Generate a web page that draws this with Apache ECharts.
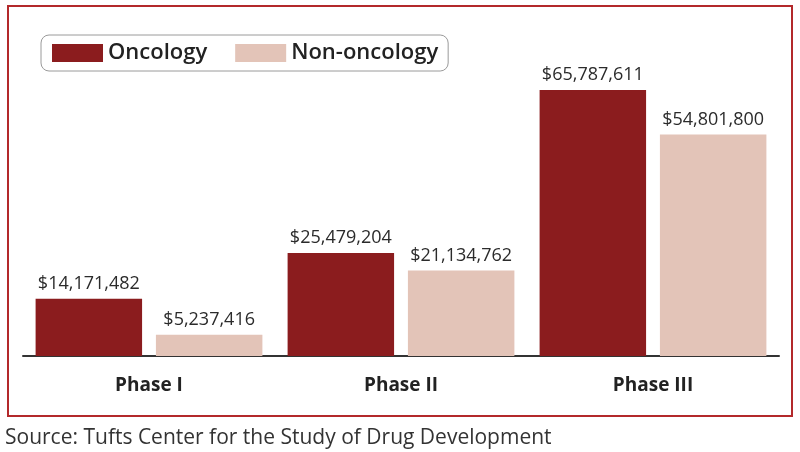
<!DOCTYPE html>
<html><head><meta charset="utf-8">
<script src="https://cdn.jsdelivr.net/npm/echarts@6/dist/echarts.min.js"></script>
<style>html,body{margin:0;padding:0;background:#fff}#c{width:800px;height:452px}</style>
</head><body><div id="c"></div>
<script>
var categories = ['Phase I', 'Phase II', 'Phase III'];
var oncology = [14171482, 25479204, 65787611];
var nonOncology = [5237416, 21134762, 54801800];
var seriesNames = ['Oncology', 'Non-oncology'];
var sourceText = 'Source: Tufts Center for the Study of Drug Development';

function fmt(v){ return '$' + v.toLocaleString('en-US'); }

var chart = echarts.init(document.getElementById('c'));
var labelStyle = {show:true, position:'top', distance:6, color:'#2b2b2b', fontSize:18,
  fontFamily:'"Open Sans", "Noto Sans", sans-serif', formatter:function(p){return fmt(p.value);}};
chart.setOption({
  animation:false,
  backgroundColor:'#ffffff',
  legend:{
    left:41, top:35, padding:[7,10,7,11],
    itemWidth:51, itemHeight:18, itemGap:28,
    borderColor:'#9a9a9a', borderWidth:1, borderRadius:8,
    icon:'rect',
    textStyle:{fontSize:22, fontWeight:600, color:'#222', fontFamily:'"Open Sans", "Noto Sans", sans-serif'},
    data:seriesNames
  },
  grid:{left:23, right:21, top:40, bottom:96},
  xAxis:{type:'category', data:categories,
    axisLine:{lineStyle:{color:'#333', width:2}}, axisTick:{show:false},
    axisLabel:{margin:20, fontSize:19, fontWeight:'bold', color:'#222',
      fontFamily:'"Open Sans", "Noto Sans", sans-serif'}},
  yAxis:{type:'value', min:0, max:78160000, show:false, splitLine:{show:false}},
  series:[
    {name:seriesNames[0], type:'bar', data:oncology, itemStyle:{color:'#8b1c1e'},
      barGap:'13%', barCategoryGap:'10%', label:labelStyle},
    {name:seriesNames[1], type:'bar', data:nonOncology, itemStyle:{color:'#e3c4b8'},
      label:labelStyle}
  ],
  graphic:[
    {type:'rect', shape:{x:8, y:6, width:784, height:410}, style:{fill:'none', stroke:'#b3292b', lineWidth:2}, z:-1},
    {type:'text', left:5, top:428, style:{text:sourceText, fontSize:21, fill:'#333',
      fontFamily:'"Open Sans", "Noto Sans", sans-serif'}}
  ]
});
</script></body></html>
